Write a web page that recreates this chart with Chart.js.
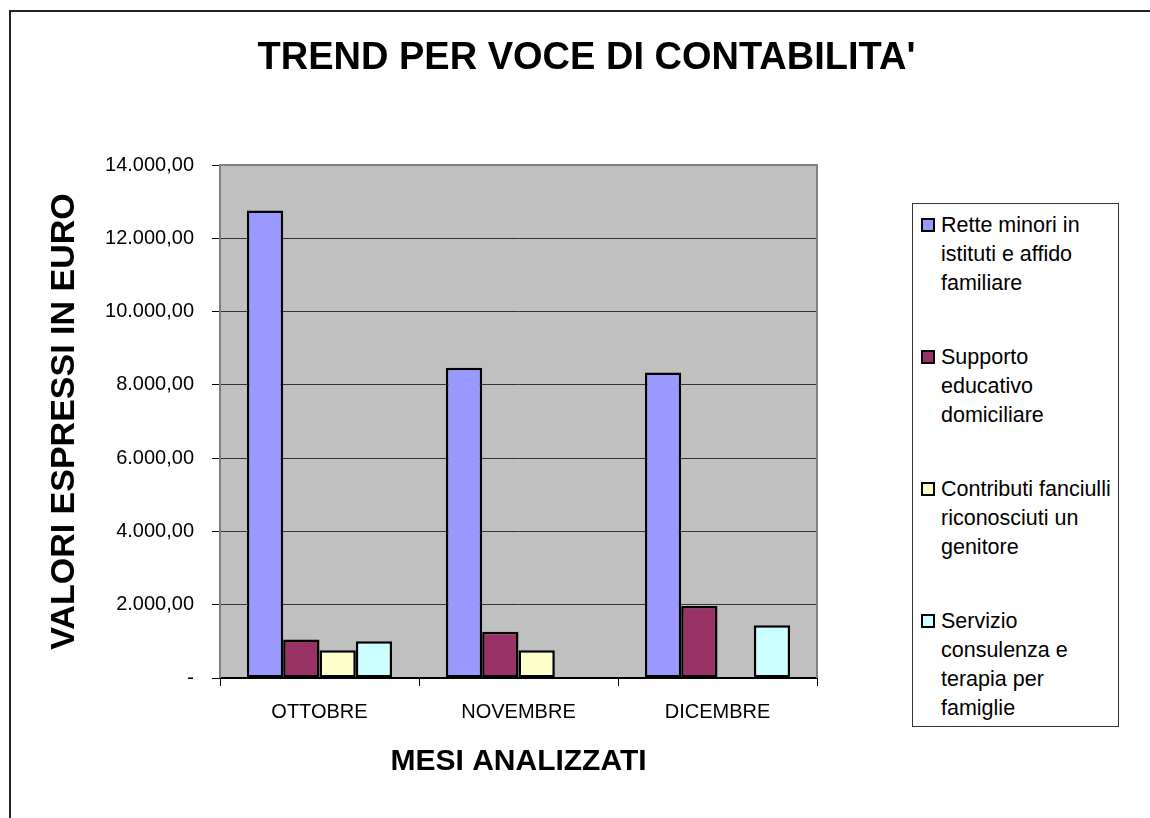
<!DOCTYPE html>
<html>
<head>
<meta charset="utf-8">
<script src="https://cdn.jsdelivr.net/npm/chart.js@4.4.1/dist/chart.umd.min.js"></script>
<style>
  body { margin: 0; background: #fff; overflow: hidden; font-family: "Liberation Sans", Arial, sans-serif; }
  #frame { position: absolute; left: 9px; top: 10px; width: 1200px; height: 900px; border: 2px solid #222; box-sizing: border-box; }
  #chart { position: absolute; left: 0; top: 0; }
  #legend { position: absolute; left: 912px; top: 203px; width: 207px; height: 524px; border: 1.5px solid #333; box-sizing: border-box; padding: 7px 0 0 8px; background: #fff; }
  .item { display: flex; align-items: flex-start; margin-bottom: 45px; }
  .box { width: 10px; height: 10px; border: 2.5px solid #000; margin-top: 7px; margin-right: 6px; flex: none; }
  .txt { width: 176px; font-size: 21.5px; line-height: 29px; color: #000; }
</style>
</head>
<body>
<div id="frame"></div>
<canvas id="chart" width="1150" height="818"></canvas>
<div id="legend"></div>
<script>
// Dati
const mesi = ['OTTOBRE', 'NOVEMBRE', 'DICEMBRE'];
const nomiVoci = [
    'Rette minori in istituti e affido familiare',
    'Supporto educativo domiciliare',
    'Contributi fanciulli riconosciuti un genitore',
    'Servizio consulenza e terapia per famiglie'
];
const rette = [12760, 8470, 8340];
const supporto = [1050, 1265, 1965];
const contributi = [755, 755, null];
const servizio = [1000, null, 1440];
const colori = ['#9999FF', '#993366', '#FFFFCC', '#CCFFFF'];
const yMax = 14000;
const yStep = 2000;

const FONT = '"Liberation Sans", Arial, sans-serif';

// formato italiano: 14.000,00 e "-" per lo zero
function formatEuro(v) {
    if (v === 0) return '-';
    const intero = Math.round(v).toString().replace(/\B(?=(\d{3})+(?!\d))/g, '.');
    return intero + ',00';
}

// sfondo grigio e cornice dell'area del grafico
const plotArea = {
    id: 'plotArea',
    beforeDraw(chart) {
        const { ctx, chartArea: a } = chart;
        ctx.save();
        ctx.fillStyle = '#C0C0C0';
        ctx.fillRect(a.left, a.top, a.right - a.left, a.bottom - a.top);
        ctx.restore();
    },
    beforeDatasetsDraw(chart) {
        const { ctx, chartArea: a } = chart;
        ctx.save();
        ctx.strokeStyle = '#808080';
        ctx.lineWidth = 2;
        ctx.beginPath();
        ctx.moveTo(a.left, a.bottom);
        ctx.lineTo(a.left, a.top);
        ctx.lineTo(a.right, a.top);
        ctx.lineTo(a.right, a.bottom);
        ctx.stroke();
        ctx.restore();
    }
};

const serie = [rette, supporto, contributi, servizio];

const chart = new Chart(document.getElementById('chart'), {
    type: 'bar',
    data: {
        labels: mesi,
        datasets: serie.map((valori, i) => ({
            label: nomiVoci[i],
            data: valori,
            backgroundColor: colori[i],
            borderColor: '#000',
            borderWidth: 2.5,
            borderSkipped: false,
            categoryPercentage: 0.73,
            barPercentage: 1.0
        }))
    },
    options: {
        responsive: false,
        animation: false,
        layout: { padding: { left: 23, right: 0, top: 0, bottom: 0 } },
        plugins: {
            legend: { display: false },
            tooltip: { enabled: false },
            title: {
                display: true,
                text: "TREND PER VOCE DI CONTABILITA'",
                color: '#000',
                font: { family: FONT, size: 38, weight: 'bold' },
                padding: { top: 36, bottom: 83.4 }
            }
        },
        scales: {
            x: {
                afterFit(scale) { scale.height = 140; },
                grid: { display: true, drawOnChartArea: false, drawTicks: true, tickLength: 8, color: '#000', offset: true },
                border: { display: true, color: '#000', width: 2 },
                ticks: { color: '#000', padding: 14.5, autoSkip: false, maxRotation: 0, font: { family: FONT, size: 20 } },
                title: {
                    display: true,
                    text: 'MESI ANALIZZATI',
                    color: '#000',
                    font: { family: FONT, size: 30, weight: 'bold' },
                    padding: { top: 0, bottom: 38 }
                }
            },
            y: {
                min: 0,
                max: yMax,
                afterFit(scale) { scale.width = 197; },
                grid: { color: '#333', lineWidth: 1, tickColor: '#000', tickLength: 8 },
                border: { display: false },
                ticks: {
                    stepSize: yStep,
                    color: '#000',
                    padding: 18,
                    font: { family: FONT, size: 20 },
                    callback: (v) => formatEuro(v)
                },
                title: {
                    display: true,
                    text: 'VALORI ESPRESSI IN EURO',
                    color: '#000',
                    font: { family: FONT, size: 34, weight: 'bold' },
                    padding: { top: 21.6, bottom: 0 }
                }
            },
            // asse nascosto per lasciare lo spazio della legenda a destra
            y2: {
                position: 'right',
                display: true,
                afterFit(scale) { scale.width = 333; },
                grid: { display: false },
                border: { display: false },
                ticks: { display: false }
            }
        }
    },
    plugins: [plotArea]
});

// legenda HTML costruita dai dataset
const legend = document.getElementById('legend');
chart.data.datasets.forEach((ds) => {
    const item = document.createElement('div');
    item.className = 'item';
    const box = document.createElement('div');
    box.className = 'box';
    box.style.background = ds.backgroundColor;
    const txt = document.createElement('div');
    txt.className = 'txt';
    txt.textContent = ds.label;
    item.appendChild(box);
    item.appendChild(txt);
    legend.appendChild(item);
});
</script>
</body>
</html>
